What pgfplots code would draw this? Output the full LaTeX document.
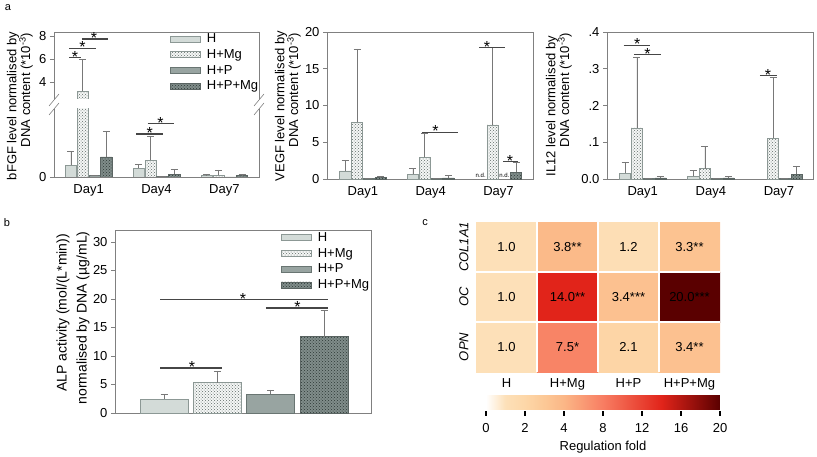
\documentclass[border=0pt]{standalone}
\usepackage{fontspec}
\setmainfont{Liberation Sans}
\usepackage{pgfplots}
\usepackage{pgfplotstable}
\pgfplotsset{compat=1.18}
\usetikzlibrary{patterns,calc}

\definecolor{cH}{RGB}{211,219,216}
\definecolor{cHd}{RGB}{140,152,149}
\definecolor{cMg}{RGB}{245,247,246}
\definecolor{cMgp}{RGB}{95,107,104}
\definecolor{cMgd}{RGB}{140,152,149}
\definecolor{cP}{RGB}{152,164,161}
\definecolor{cPd}{RGB}{105,117,114}
\definecolor{cPMg}{RGB}{128,141,138}
\definecolor{cPMgp}{RGB}{45,55,53}
\definecolor{cPMgd}{RGB}{90,100,98}
\definecolor{axgray}{RGB}{128,128,128}
\definecolor{errgray}{RGB}{120,120,120}
\definecolor{siggray}{RGB}{70,70,70}

\newcommand\fs{\fontsize{13}{15}\selectfont}

\pgfplotsset{
 mybase/.style={scale only axis, anchor=south west, font=\fs, tick label style={font=\fs},
   /pgf/number format/assume math mode=true, clip mode=individual, enlargelimits=false},
 sH/.style={fill=cH, draw=cHd, line width=0.6pt},
 sMg/.style={fill=cMg, draw=cMgd, line width=0.6pt, postaction={pattern=crosshatch dots, pattern color=cMgp}},
 sP/.style={fill=cP, draw=cPd, line width=0.6pt},
 sPMg/.style={fill=cPMg, draw=cPMgd, line width=0.6pt, postaction={pattern=crosshatch dots, pattern color=cPMgp}},
 barleg/.style={legend image code/.code={\draw[##1] (0pt,-3pt) rectangle (30pt,3pt);},
   legend cell align=left,
   legend style={draw=none, fill=none, inner sep=0pt, font=\fs, row sep=0pt,
     nodes={inner sep=1.1pt, text height=10.5pt, text depth=3pt},
     /tikz/every odd column/.append style={column sep=5pt}}},
 errs/.style={error bars/y dir=plus, error bars/y explicit,
   error bars/error bar style={color=errgray, line width=0.7pt},
   error bars/error mark options={rotate=90, color=errgray, line width=0.7pt, mark size=3.5pt}},
 apanel/.style={mybase, width=205pt, xmin=0.49, xmax=3.51, ybar, bar width=11.3pt,
   xtick={1,2,3}, xticklabels={Day1,Day4,Day7}, xtick style={draw=none},
   ytick pos=left, tick align=outside, major tick length=4pt,
   ytick style={axgray, line width=0.6pt}, axis line style={axgray, line width=0.6pt}, errs},
}

\newcommand\fourbars[1]{%
 \addplot[sH, bar shift=-17.7pt] table[x=day,y=H,y error=He]{#1};
 \addplot[sMg, bar shift=-5.9pt] table[x=day,y=Mg,y error=Mge]{#1};
 \addplot[sP, bar shift=5.9pt] table[x=day,y=P,y error=Pe]{#1};
 \addplot[sPMg, bar shift=17.7pt] table[x=day,y=PMg,y error=PMge]{#1};}

\newcommand\sig[4]{%
 \draw[siggray, line width=1.3pt] (axis cs:#1,#3) -- (axis cs:#2,#3);
 \node[font=\fontsize{16}{16}\selectfont, anchor=base, inner sep=0pt, yshift=-4.7pt] at (axis cs:#4,#3) {*};}

% bFGF
\pgfplotstableread{
day H He Mg Mge P Pe PMg PMge
1 0.44 0.52 3.18 2.82 0.05 0 0.74 0.93
2 0.32 0.15 0.62 0.88 0.01 0 0.10 0.18
3 0.05 0.05 0.06 0.20 0.005 0 0.05 0.05
}\tA
% VEGF
\pgfplotstableread{
day H He Mg Mge P Pe PMg PMge
1 1.09 1.41 7.70 10.00 0.05 0 0.18 0.22
2 0.64 0.81 2.95 3.25 0.05 0 0.14 0.31
3 nan 0 7.36 10.54 nan 0 0.95 1.25
}\tB
% IL12
\pgfplotstableread{
day H He Mg Mge P Pe PMg PMge
1 0.016 0.028 0.139 0.193 0.001 0 0.003 0.004
2 0.008 0.015 0.028 0.060 0.001 0 0.003 0.005
3 nan 0 0.111 0.166 0.001 0 0.0136 0.0204
}\tD
% heatmap
\pgfplotstableread{
x y v lab
0 0 1.0 1.0
1 0 3.8 3.8**
2 0 1.2 1.2
3 0 3.3 3.3**
0 1 1.0 1.0
1 1 14.0 14.0**
2 1 3.4 3.4***
3 1 20.0 20.0***
0 2 1.0 1.0
1 2 7.5 7.5*
2 2 2.1 2.1
3 2 3.4 3.4**
}\tC

\begin{document}
\begin{tikzpicture}[x=1pt,y=1pt]
\useasboundingbox (0,0) rectangle (817,456);

% ---------- a1 upper ----------
\begin{axis}[apanel, at={(54pt,357pt)}, height=67pt, ymin=2.5, ymax=8.35, ytick={4,6,8},
  xtick=\empty, axis line style={draw=none}, barleg,
  legend style={at={(0.566,1.015)}, anchor=north west}]
\addplot[sMg, bar shift=-5.9pt, forget plot, restrict y to domain=2.5:100] table[x=day,y=Mg,y error=Mge]{\tA};
\addlegendimage{sH}
\addlegendimage{sMg}
\addlegendimage{sP}
\addlegendimage{sPMg}
\draw[axgray, line width=0.6pt] (rel axis cs:0,0) -- (rel axis cs:0,1) -- (rel axis cs:1,1) -- (rel axis cs:1,0);
\sig{0.718}{0.885}{6.14}{0.80}
\sig{0.718}{1.11}{6.93}{0.91}
\sig{0.90}{1.29}{7.75}{1.08}
\legend{H,H+Mg,H+P,H+P+Mg}
\end{axis}
% ---------- a1 lower ----------
\begin{axis}[apanel, at={(54pt,279pt)}, height=68pt, ymin=0, ymax=2.5, ytick={0},
  axis line style={draw=none}]
\fourbars{\tA}
\draw[axgray, line width=0.6pt] (rel axis cs:0,1) -- (rel axis cs:0,0) -- (rel axis cs:1,0) -- (rel axis cs:1,1);
\sig{1.70}{2.10}{1.58}{1.90}
\sig{1.87}{2.26}{1.96}{2.06}
\end{axis}
% break marks
\foreach \xx in {54,259}{
 \draw[axgray, line width=0.6pt] (\xx-5,350) -- (\xx+5,362);
 \draw[axgray, line width=0.6pt] (\xx-5,341) -- (\xx+5,353);
}

% ---------- a2 ----------
\begin{axis}[apanel, at={(327pt,277pt)}, width=206pt, height=147pt, xmin=0.47, xmax=3.51,
  ymin=0, ymax=20, ytick={0,5,10,15,20}]
\fourbars{\tB}
\node[font=\fontsize{6}{6}\selectfont, anchor=south, inner sep=0.8pt, xshift=-17.7pt] at (axis cs:3,0) {n.d.};
\node[font=\fontsize{6}{6}\selectfont, anchor=south, inner sep=0.8pt, xshift=5.9pt] at (axis cs:3,0) {n.d.};
\sig{1.878}{2.40}{6.37}{2.07}
\sig{2.72}{3.09}{17.9}{2.83}
\sig{3.07}{3.29}{2.36}{3.17}
\end{axis}

% ---------- a3 ----------
\begin{axis}[apanel, at={(607pt,277pt)}, width=206pt, height=147pt, xmin=0.475, xmax=3.5,
  ymin=0, ymax=0.4, ytick={0,0.1,0.2,0.3,0.4}, yticklabels={0.0,.1,.2,.3,.4}]
\fourbars{\tD}
\sig{0.72}{1.11}{0.364}{0.92}
\sig{0.87}{1.275}{0.339}{1.07}
\sig{2.72}{2.975}{0.282}{2.84}
\end{axis}

% y labels panel a
\node[rotate=90, font=\fs] at (13,350) {bFGF level normalised by};
\node[rotate=90, font=\fs] at (26,366) {DNA content (*10\textsuperscript{-3})};
\node[rotate=90, font=\fs] at (281,350) {VEGF level normalised by};
\node[rotate=90, font=\fs] at (294,366) {DNA content (*10\textsuperscript{-3})};
\node[rotate=90, font=\fs] at (552,350) {IL12 level normalised by};
\node[rotate=90, font=\fs] at (565,366) {DNA content (*10\textsuperscript{-3})};

% ---------- b ----------
\begin{axis}[mybase, at={(115pt,43pt)}, width=256pt, height=183pt, xmin=-0.919, xmax=3.88,
  ymin=0, ymax=32.1, ytick={0,5,10,15,20,25,30}, xtick=\empty,
  ybar, bar width=48pt, ytick pos=left, tick align=outside, major tick length=4pt,
  ytick style={axgray, line width=0.6pt}, axis line style={axgray, line width=0.6pt}, errs, barleg,
  legend style={at={(0.648,1.0016)}, anchor=north west}]
\addplot[sH, bar shift=0pt] coordinates {(0,2.46) +- (0,0.87)};
\addplot[sMg, bar shift=0pt] coordinates {(1,5.33) +- (0,2.04)};
\addplot[sP, bar shift=0pt] coordinates {(2,3.33) +- (0,0.71)};
\addplot[sPMg, bar shift=0pt] coordinates {(3,13.4) +- (0,4.6)};
\sig{-0.075}{1.09}{7.9}{0.525}
\sig{-0.075}{3.08}{19.9}{1.48}
\sig{1.91}{3.08}{18.4}{2.5}
\legend{H,H+Mg,H+P,H+P+Mg}
\end{axis}
\node[rotate=90, font=\fontsize{14}{16}\selectfont] at (63,143) {ALP activity (mol/(L*min))};
\node[rotate=90, font=\fontsize{14}{16}\selectfont] at (83,138) {normalised by DNA (µg/mL)};

% ---------- c heatmap ----------
\begin{axis}[mybase, at={(476pt,84pt)}, width=244pt, height=150pt,
  xmin=-0.5, xmax=3.5, ymin=-0.5, ymax=2.5, y dir=reverse,
  axis line style={draw=none}, tick style={draw=none},
  xtick={0,1,2,3}, xticklabels={H,H+Mg,H+P,H+P+Mg}, xticklabel shift=3pt,
  ytick={0,1,2}, yticklabels={COL1A1,OC,OPN},
  yticklabel style={rotate=90, anchor=south, font=\fs\itshape}, yticklabel shift=4pt,
  colormap={fold}{rgb255(0cm)=(255,255,255); rgb255(0.5cm)=(253,224,184); rgb255(1cm)=(253,215,168);
    rgb255(1.5cm)=(252,200,150); rgb255(2cm)=(251,182,134); rgb255(3cm)=(248,125,98);
    rgb255(4.5cm)=(225,36,26); rgb255(6cm)=(90,0,0)},
  point meta min=0, point meta max=6,
  colorbar horizontal,
  colorbar style={at={(parent axis.south west)}, anchor=north west, xshift=10pt, yshift=-14pt,
    scale only axis, width=234pt, height=15pt,
    xtick={0,1,2,3,4,5,6}, xticklabels={0,2,4,8,12,16,20}, xticklabel pos=lower,
    tick align=outside, major tick length=5pt, tick style={draw=none},
    ytick=\empty, axis line style={draw=none}, xticklabel shift=5pt,
    xlabel={Regulation fold}, xlabel style={yshift=-2pt}, font=\fs, tick label style={font=\fs},
    /pgf/number format/assume math mode=true},
]
\addplot[matrix plot*, mesh/cols=4, point meta={\thisrow{v}<4 ? \thisrow{v}/2 : 2+(\thisrow{v}-4)/4}]
  table[x=x, y=y] {\tC};
\draw[white, line width=2.5pt] (axis cs:0.5,-0.5) -- (axis cs:0.5,2.5);
\draw[white, line width=2.5pt] (axis cs:1.5,-0.5) -- (axis cs:1.5,2.5);
\draw[white, line width=2.5pt] (axis cs:2.5,-0.5) -- (axis cs:2.5,2.5);
\draw[white, line width=2.5pt] (axis cs:-0.5,0.5) -- (axis cs:3.5,0.5);
\draw[white, line width=2.5pt] (axis cs:-0.5,1.5) -- (axis cs:3.5,1.5);
\addplot[only marks, mark=*, mark size=0pt, mark options={draw=none, fill=none},
  nodes near coords, nodes near coords align=center, point meta=explicit symbolic,
  every node near coord/.append style={font=\fs, black}]
  table[x=x, y=y, meta=lab] {\tC};
% colour-bar tick marks (below the bar)
\draw[black, line width=1.4pt] (axis cs:-0.336,3.28) -- (axis cs:-0.336,3.37);
\draw[black, line width=1.4pt] (axis cs:0.303,3.28) -- (axis cs:0.303,3.37);
\draw[black, line width=1.4pt] (axis cs:0.943,3.28) -- (axis cs:0.943,3.37);
\draw[black, line width=1.4pt] (axis cs:1.582,3.28) -- (axis cs:1.582,3.37);
\draw[black, line width=1.4pt] (axis cs:2.221,3.28) -- (axis cs:2.221,3.37);
\draw[black, line width=1.4pt] (axis cs:2.861,3.28) -- (axis cs:2.861,3.37);
\draw[black, line width=1.4pt] (axis cs:3.5,3.28) -- (axis cs:3.5,3.37);
\end{axis}

% panel letters
\node[font=\fontsize{11}{11}\selectfont] at (8,448) {a};
\node[font=\fontsize{11}{11}\selectfont] at (7,233) {b};
\node[font=\fontsize{11}{11}\selectfont] at (425,233) {c};
\end{tikzpicture}
\end{document}
